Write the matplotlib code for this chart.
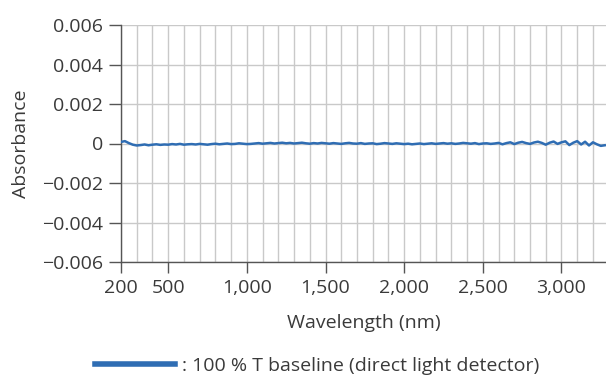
import numpy as np
import matplotlib
matplotlib.use("Agg")
import matplotlib.pyplot as plt
from matplotlib.ticker import MultipleLocator, FixedLocator, FuncFormatter

# Baseline absorbance, sampled every 25 nm from 200 nm (values in units of 1e-5 Abs)
wavelength_start = 200
wavelength_step = 25
baseline_1e5 = [
    8, 12, 2, -6, -10, -8, -5, -9, -6, -4, -7, -5, -6,
    -3, -5, -2, -6, -4, -3, -5, -2, -4, -6, -3, -1, -4, -2, 0, -3, -2, 1, -1, -3,
    -2, 0, 2, -1, 1, 3, 0, 2, 4, 1, 3, 0, 2, 4, 1, -1, 2, 0, 3, 1,
    -1, 2, 0, -2, 1, 3, 0, -1, 2, -2, 0, 1, -3, -1, 2, 0, -2, 1, -1, -3,
    -1, -4, -2, 0, -3, -1, 1, -2, 0, 2, -1, 1, -2, 0, 3, 1, -1, 2, -3, 0,
    1, -2, 0, 3, -4, 2, 6, -3, 4, 8, 2, -2, 5, 9, 3, -6, 4, 10, -2, 6,
    11, -8, 4, 12, -5, 9, -10, 6, -4, -12, -9,
]
x_ticks = [200, 500, 1000, 1500, 2000, 2500, 3000]
y_ticks = [-0.006, -0.004, -0.002, 0, 0.002, 0.004, 0.006]
series_label = ": 100 % T baseline (direct light detector)"
x_label = "Wavelength (nm)"
y_label = "Absorbance"

wavelength = wavelength_start + wavelength_step * np.arange(len(baseline_1e5))
absorbance = np.array(baseline_1e5) * 1e-5

plt.rcParams["font.family"] = ["Open Sans", "DejaVu Sans"]
text_color = "#3a3a3a"
grid_color = "#c9c9c9"
line_color = "#2f6db3"
fs = 14

fig = plt.figure(figsize=(6.06, 3.76), dpi=100)
ax = fig.add_axes([121 / 606, 1 - 262 / 376, 1 - 121 / 606, (262 - 25) / 376])

line, = ax.plot(wavelength, absorbance, color=line_color, lw=1.8, label=series_label,
                solid_joinstyle="round", zorder=3)

ax.set_xlim(200, 3283)
ax.set_ylim(-0.006, 0.006)

ax.xaxis.set_major_locator(FixedLocator(x_ticks))
ax.xaxis.set_minor_locator(MultipleLocator(100))
ax.xaxis.set_major_formatter(FuncFormatter(lambda v, p: f"{int(v):,}"))
ax.yaxis.set_major_locator(FixedLocator(y_ticks))


def yfmt(v, p):
    if abs(v) < 1e-12:
        return "0"
    s = f"{abs(v):.3f}"
    return ("\u2212" if v < 0 else "") + s


ax.yaxis.set_major_formatter(FuncFormatter(yfmt))

ax.grid(True, which="major", axis="y", color=grid_color, lw=1.0, zorder=0)
ax.grid(True, which="both", axis="x", color=grid_color, lw=1.0, zorder=0)

for side in ("top", "right"):
    ax.spines[side].set_visible(False)
for side in ("left", "bottom"):
    ax.spines[side].set_color("#555555")
    ax.spines[side].set_linewidth(1.0)

ax.tick_params(axis="y", which="major", length=9, width=1.0, color="#555555",
               labelsize=fs, labelcolor=text_color, pad=4)
ax.tick_params(axis="x", which="major", length=8, width=1.0, color="#555555",
               labelsize=fs, labelcolor=text_color, pad=4)
ax.tick_params(axis="x", which="minor", length=0)

ax.set_xlabel(x_label, fontsize=fs, color=text_color)
ax.set_ylabel(y_label, fontsize=fs, color=text_color)
ax.xaxis.set_label_coords(0.5, (262 - 314) / 237)
ax.yaxis.set_label_coords((30 - 121) / 485, 0.5)

leg = fig.legend(handles=[line], loc="center", bbox_to_anchor=(317 / 606, 1 - 366 / 376),
                 frameon=False, fontsize=fs, handlelength=4.1, handletextpad=0.36,
                 borderpad=0, labelcolor=text_color)
for h in leg.legend_handles:
    h.set_linewidth(4)

fig.savefig("out.png", dpi=100, facecolor="white")
